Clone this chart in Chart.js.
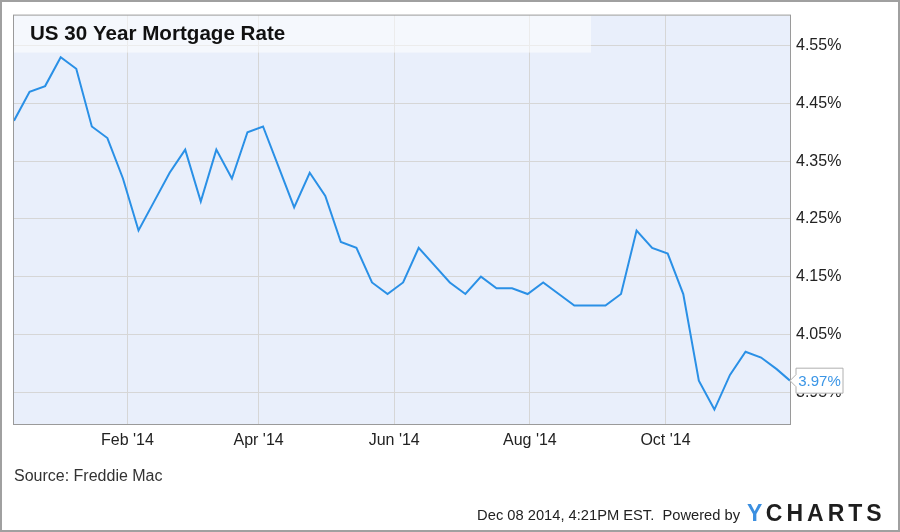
<!DOCTYPE html>
<html>
<head>
<meta charset="utf-8">
<script src="https://cdn.jsdelivr.net/npm/chart.js@4"></script>
<style>
  html, body { margin: 0; padding: 0; background: #fff; }
  #wrap { width: 900px; height: 532px; position: relative; }
</style>
</head>
<body>
<div id="wrap"><canvas id="c" width="900" height="532"></canvas></div>
<script>
// ---- Data (Freddie Mac weekly 30-year fixed rate) ----
const dates = [
  '2013-12-12','2013-12-19','2013-12-26',
  '2014-01-02','2014-01-09','2014-01-16','2014-01-23','2014-01-30',
  '2014-02-06','2014-02-13','2014-02-20','2014-02-27',
  '2014-03-06','2014-03-13','2014-03-20','2014-03-27',
  '2014-04-03','2014-04-10','2014-04-17','2014-04-24',
  '2014-05-01','2014-05-08','2014-05-15','2014-05-22','2014-05-29',
  '2014-06-05','2014-06-12','2014-06-19','2014-06-26',
  '2014-07-03','2014-07-10','2014-07-17','2014-07-24','2014-07-31',
  '2014-08-07','2014-08-14','2014-08-21','2014-08-28',
  '2014-09-04','2014-09-11','2014-09-18','2014-09-25',
  '2014-10-02','2014-10-09','2014-10-16','2014-10-23','2014-10-30',
  '2014-11-06','2014-11-13','2014-11-20','2014-11-26'
];
const rates = [
  4.42, 4.47, 4.48,
  4.53, 4.51, 4.41, 4.39, 4.32,
  4.23, 4.28, 4.33, 4.37,
  4.28, 4.37, 4.32, 4.40,
  4.41, 4.34, 4.27, 4.33,
  4.29, 4.21, 4.20, 4.14, 4.12,
  4.14, 4.20, 4.17, 4.14,
  4.12, 4.15, 4.13, 4.13, 4.12,
  4.14, 4.12, 4.10, 4.10,
  4.10, 4.12, 4.23, 4.20,
  4.19, 4.12, 3.97, 3.92, 3.98,
  4.02, 4.01, 3.99, 3.97
];
const xTickDates  = ['2014-02-01','2014-04-01','2014-06-01','2014-08-01','2014-10-01'];
const xTickLabels = ["Feb '14", "Apr '14", "Jun '14", "Aug '14", "Oct '14"];
const yTickValues = [3.95, 4.05, 4.15, 4.25, 4.35, 4.45, 4.55];
const yMin = 3.895, yMax = 4.602;

const titleText  = 'US 30 Year Mortgage Rate';
const sourceText = 'Source: Freddie Mac';
const stampText  = 'Dec 08 2014, 4:21PM EST.  Powered by';
const logoY = 'Y', logoRest = 'CHARTS';

// ---- helpers ----
const DAY = 86400000;
const base = Date.UTC(2013, 11, 12);
function dayNum(s) {
  const p = s.split('-').map(Number);
  return (Date.UTC(p[0], p[1] - 1, p[2]) - base) / DAY;
}
const points = dates.map((d, i) => ({ x: dayNum(d), y: rates[i] }));
const xTickNums = xTickDates.map(dayNum);

const FONT = '"Liberation Sans", Arial, sans-serif';

const decor = {
  id: 'decor',
  beforeDraw(chart) {
    const ctx = chart.ctx, a = chart.chartArea;
    ctx.save();
    ctx.fillStyle = '#ffffff';
    ctx.fillRect(0, 0, chart.width, chart.height);
    ctx.fillStyle = '#e9effb';
    ctx.fillRect(a.left, a.top, a.right - a.left, a.bottom - a.top);
    ctx.restore();
  },
  beforeDatasetsDraw(chart) {
    const ctx = chart.ctx, a = chart.chartArea;
    ctx.save();
    ctx.fillStyle = 'rgba(255,255,255,0.55)';
    ctx.fillRect(a.left, a.top, 577, 37);
    ctx.fillStyle = '#111';
    ctx.font = 'bold 20.6px ' + FONT;
    ctx.textBaseline = 'alphabetic';
    ctx.fillText(titleText, 30, 40);
    ctx.restore();
  },
  afterDraw(chart) {
    const ctx = chart.ctx, a = chart.chartArea;
    const xs = chart.scales.x, ys = chart.scales.y;
    ctx.save();
    // plot border
    ctx.strokeStyle = '#9a9a9a';
    ctx.lineWidth = 1;
    ctx.strokeRect(a.left - 0.5, a.top - 0.5, a.right - a.left + 1, a.bottom - a.top + 1);

    // last value label
    const last = points[points.length - 1];
    const px = xs.getPixelForValue(last.x), py = ys.getPixelForValue(last.y);
    ctx.beginPath();
    ctx.moveTo(px + 6, py - 12.5);
    ctx.lineTo(px + 53, py - 12.5);
    ctx.lineTo(px + 53, py + 12.5);
    ctx.lineTo(px + 6, py + 12.5);
    ctx.lineTo(px + 6, py + 6);
    ctx.lineTo(px, py);
    ctx.lineTo(px + 6, py - 6);
    ctx.closePath();
    ctx.fillStyle = '#ffffff';
    ctx.fill();
    ctx.strokeStyle = '#b0b0b0';
    ctx.lineWidth = 1;
    ctx.stroke();
    ctx.fillStyle = '#3a95e6';
    ctx.font = '15px ' + FONT;
    ctx.textAlign = 'center';
    ctx.textBaseline = 'middle';
    ctx.fillText(last.y.toFixed(2) + '%', px + 29.5, py + 1);

    // footer
    ctx.textAlign = 'left';
    ctx.textBaseline = 'alphabetic';
    ctx.fillStyle = '#333';
    ctx.font = '16px ' + FONT;
    ctx.fillText(sourceText, 14, 481);
    ctx.textAlign = 'right';
    ctx.fillStyle = '#222';
    ctx.font = '14.7px ' + FONT;
    ctx.fillText(stampText, 740, 520);

    // logo
    ctx.textAlign = 'left';
    ctx.font = 'bold 23px ' + FONT;
    let lx = 747;
    ctx.fillStyle = '#3b8fe0';
    ctx.fillText(logoY, lx, 521);
    lx += ctx.measureText(logoY).width + 3.5;
    ctx.fillStyle = '#1e1e1e';
    for (const ch of logoRest) {
      ctx.fillText(ch, lx, 521);
      lx += ctx.measureText(ch).width + 4;
    }

    // outer border
    ctx.strokeStyle = '#a0a0a0';
    ctx.lineWidth = 2;
    ctx.strokeRect(1, 1, chart.width - 2, chart.height - 2);
    ctx.restore();
  }
};

new Chart(document.getElementById('c'), {
  type: 'line',
  data: {
    datasets: [{
      data: points,
      borderColor: '#2a90e6',
      borderWidth: 2,
      pointRadius: 0,
      tension: 0,
      fill: false
    }]
  },
  options: {
    responsive: false,
    animation: false,
    devicePixelRatio: 1,
    layout: { padding: { left: 14, top: 14, right: 0, bottom: 0 } },
    plugins: { legend: { display: false }, tooltip: { enabled: false }, title: { display: false } },
    scales: {
      x: {
        type: 'linear',
        min: points[0].x,
        max: points[points.length - 1].x,
        afterBuildTicks(scale) { scale.ticks = xTickNums.map(v => ({ value: v })); },
        afterFit(scale) { scale.height = 108; },
        grid: { color: '#d6d6d6', drawTicks: false },
        border: { display: false },
        ticks: {
          padding: 7,
          color: '#222',
          font: { family: FONT, size: 16 },
          maxRotation: 0,
          autoSkip: false,
          callback(v) { const i = xTickNums.indexOf(v); return i >= 0 ? xTickLabels[i] : ''; }
        }
      },
      y: {
        position: 'right',
        min: yMin,
        max: yMax,
        afterBuildTicks(scale) { scale.ticks = yTickValues.map(v => ({ value: v })); },
        afterFit(scale) { scale.width = 110; },
        grid: { color: '#d6d6d6', drawTicks: false },
        border: { display: false },
        ticks: {
          padding: 6,
          color: '#222',
          font: { family: FONT, size: 16 },
          callback(v) { return Number(v).toFixed(2) + '%'; }
        }
      }
    }
  },
  plugins: [decor]
});
</script>
</body>
</html>
